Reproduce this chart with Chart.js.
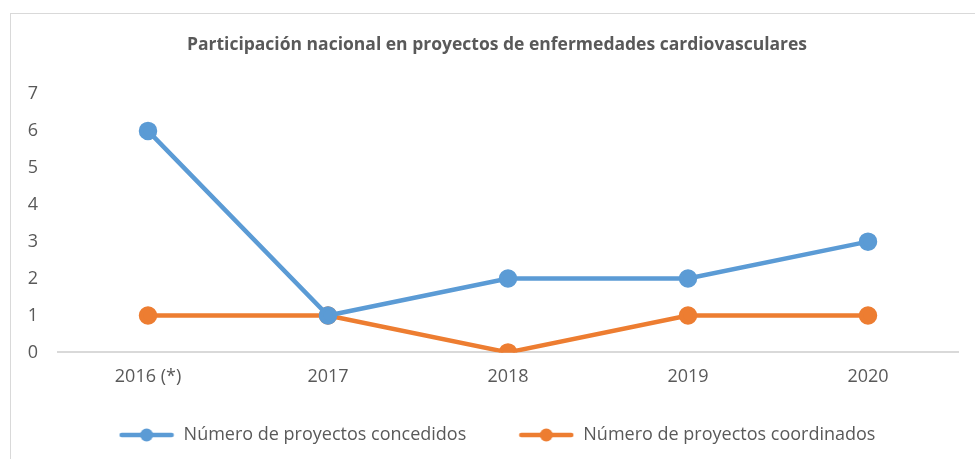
<!DOCTYPE html>
<html lang="es">
<head>
    <meta charset="UTF-8">
    <title>Participación nacional</title>
    <script src="https://cdn.jsdelivr.net/npm/chart.js"></script>
    <style>
        body { margin: 0; background: #fff; overflow: hidden; }
        #wrap { position: relative; width: 975px; height: 459px; }
        #frame { position: absolute; left: 10px; top: 13px; width: 1000px; height: 500px; border: 1px solid #d9d9d9; }
        canvas { position: absolute; left: 0; top: 0; }
    </style>
</head>
<body>
<div id="wrap">
    <div id="frame"></div>
    <canvas id="myChart" width="975" height="459"></canvas>
</div>
<script>
const years = ['2016 (*)', '2017', '2018', '2019', '2020'];
const concedidos = [6, 1, 2, 2, 3];
const coordinados = [1, 1, 0, 1, 1];
const yTicks = [0, 1, 2, 3, 4, 5, 6, 7];

const blue = '#5B9BD5';
const orange = '#ED7D31';
const grey = '#595959';
const fontFam = "'Open Sans', 'Noto Sans', sans-serif";

// icono de leyenda: línea con punto
function legendIcon(color) {
    const c = document.createElement('canvas');
    c.width = 56; c.height = 14;
    const g = c.getContext('2d');
    g.strokeStyle = color;
    g.lineWidth = 4.5;
    g.lineCap = 'round';
    g.beginPath();
    g.moveTo(3, 7); g.lineTo(53, 7);
    g.stroke();
    g.fillStyle = color;
    g.beginPath();
    g.arc(28, 7, 6.5, 0, Math.PI * 2);
    g.fill();
    return c;
}

const ctx = document.getElementById('myChart');
new Chart(ctx, {
    type: 'line',
    data: {
        labels: years,
        datasets: [{
            label: 'Número de proyectos concedidos',
            data: concedidos,
            borderColor: blue,
            backgroundColor: blue,
            borderWidth: 4.5,
            pointRadius: 7,
            pointHoverRadius: 7
        }, {
            label: 'Número de proyectos coordinados',
            data: coordinados,
            borderColor: orange,
            backgroundColor: orange,
            borderWidth: 4.5,
            pointRadius: 7,
            pointHoverRadius: 7
        }]
    },
    options: {
        responsive: false,
        animation: false,
        layout: { padding: { left: 19, right: 0, bottom: 5 } },
        plugins: {
            title: {
                display: true,
                text: 'Participación nacional en proyectos de enfermedades cardiovasculares',
                color: grey,
                font: { family: fontFam, size: 17.5, weight: 'bold' },
                padding: { top: 35, bottom: 38 }
            },
            legend: {
                position: 'bottom',
                labels: {
                    usePointStyle: true,
                    pointStyleWidth: 56,
                    boxHeight: 14,
                    color: grey,
                    font: { family: fontFam, size: 18 },
                    padding: 24,
                    generateLabels(chart) {
                        return chart.data.datasets.map((ds, i) => ({
                            // espacios extra para separar las entradas como en Excel
                            text: i === 0 ? ds.label + '\u00a0\u00a0\u00a0\u00a0\u00a0\u00a0' : ds.label,
                            fontColor: grey,
                            pointStyle: legendIcon(ds.borderColor),
                            strokeStyle: ds.borderColor,
                            fillStyle: ds.borderColor,
                            lineWidth: 0,
                            datasetIndex: i
                        }));
                    }
                }
            },
            tooltip: { enabled: false }
        },
        scales: {
            x: {
                offset: true,
                grid: { display: false, drawTicks: false },
                border: { color: '#d9d9d9', width: 2 },
                ticks: { color: grey, font: { family: fontFam, size: 18 }, padding: 14 }
            },
            y: {
                min: 0,
                max: 7,
                afterBuildTicks(s) { s.ticks = yTicks.map(v => ({ value: v })); },
                afterFit(s) { s.width = 39; },
                grid: { display: false, drawTicks: false },
                border: { display: false },
                ticks: { color: grey, font: { family: fontFam, size: 18 }, padding: 20 }
            },
            // eje vacío a la derecha solo para dejar margen
            yRight: {
                position: 'right',
                min: 0,
                max: 7,
                afterFit(s) { s.width = 17; },
                grid: { display: false, drawTicks: false },
                border: { display: false },
                ticks: { display: false }
            }
        }
    }
});
</script>
</body>
</html>
